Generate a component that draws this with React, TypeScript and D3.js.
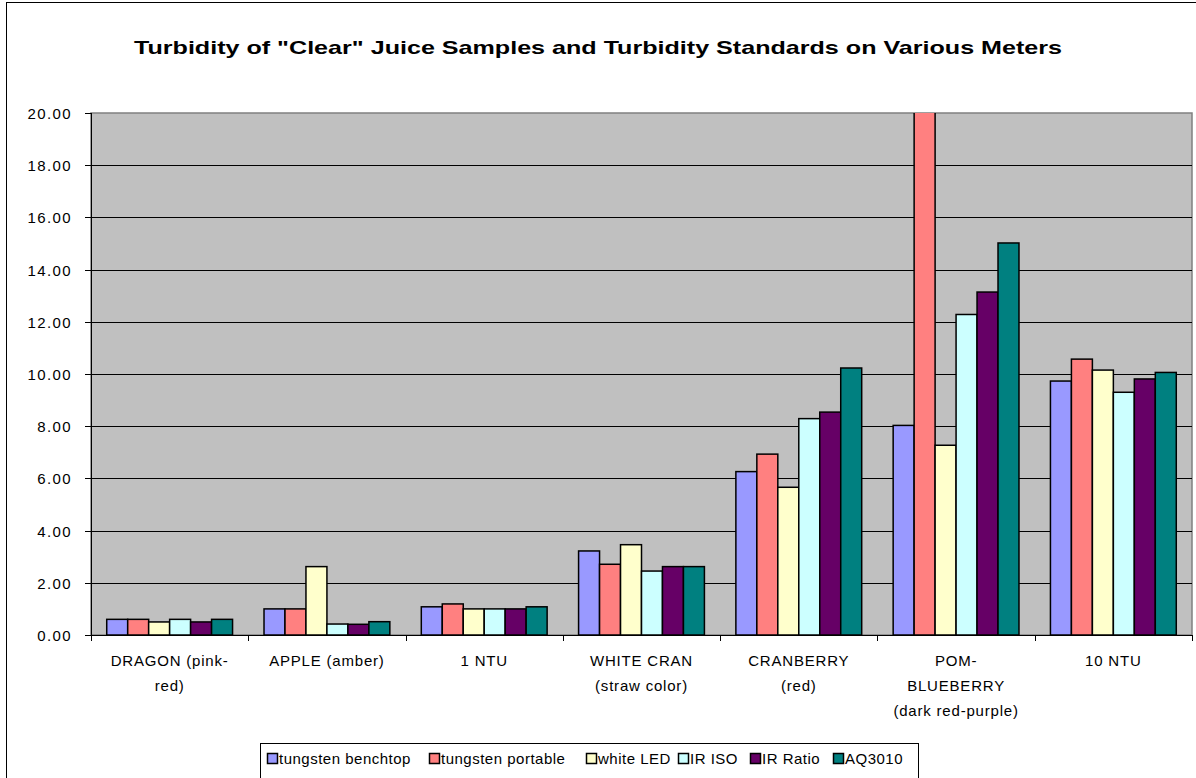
import { useEffect, useRef } from 'react';
import * as d3 from 'd3';

const categories = [
  ['DRAGON (pink-', 'red)'],
  ['APPLE (amber)'],
  ['1 NTU'],
  ['WHITE CRAN', '(straw color)'],
  ['CRANBERRY', '(red)'],
  ['POM-', 'BLUEBERRY', '(dark red-purple)'],
  ['10 NTU'],
];

const seriesNames = ['tungsten benchtop', 'tungsten portable', 'white LED', 'IR ISO', 'IR Ratio', 'AQ3010'];
const seriesColors = ['#9999FF', '#FF8080', '#FFFFCC', '#CCFFFF', '#660066', '#008080'];

const tungstenBenchtop = [0.6, 1.0, 1.08, 3.22, 6.26, 8.03, 9.73];
const tungstenPortable = [0.6, 1.0, 1.19, 2.71, 6.93, 24.0, 10.57];
const whiteLED = [0.5, 2.62, 1.0, 3.46, 5.66, 7.27, 10.15];
const irISO = [0.6, 0.42, 1.0, 2.45, 8.29, 12.28, 9.3];
const irRatio = [0.5, 0.41, 1.0, 2.62, 8.54, 13.14, 9.81];
const aq3010 = [0.6, 0.51, 1.08, 2.62, 10.23, 15.02, 10.06];

const yTicks = [0, 2, 4, 6, 8, 10, 12, 14, 16, 18, 20];

const title = 'Turbidity of "Clear" Juice Samples and Turbidity Standards on Various Meters';

const FONT = '"Liberation Sans", Arial, sans-serif';

const App = () => {
  const ref = useRef<SVGSVGElement | null>(null);

  useEffect(() => {
    if (!ref.current) return;
    const svg = d3.select(ref.current);
    svg.selectAll('*').remove();

    const W = 1196;
    const H = 778;
    const plot = { left: 91, top: 113, right: 1192, bottom: 635 };
    const allSeries = [tungstenBenchtop, tungstenPortable, whiteLED, irISO, irRatio, aq3010];

    // chart frame
    svg.append('rect').attr('x', 0).attr('y', 0).attr('width', W).attr('height', H).attr('fill', '#fff');
    svg.append('rect')
      .attr('x', 6.5).attr('y', 2.5).attr('width', W + 10).attr('height', H + 10)
      .attr('fill', 'none').attr('stroke', '#000').attr('stroke-width', 1);

    svg.append('text')
      .attr('x', 598).attr('y', 54)
      .attr('text-anchor', 'middle')
      .attr('font-family', FONT)
      .attr('font-size', 19)
      .attr('font-weight', 'bold')
      .attr('textLength', 928)
      .attr('lengthAdjust', 'spacingAndGlyphs')
      .text(title);

    const x0 = d3.scaleBand<number>()
      .domain(d3.range(categories.length))
      .range([plot.left, plot.right])
      .paddingInner(0)
      .paddingOuter(0);

    const barW = x0.bandwidth() / 7.5;
    const x1 = d3.scaleBand<number>()
      .domain(d3.range(seriesNames.length))
      .range([barW * 0.75, barW * 6.75]);

    const y = d3.scaleLinear().domain([0, 20]).range([plot.bottom, plot.top]);

    // plot area
    svg.append('rect')
      .attr('x', plot.left).attr('y', plot.top)
      .attr('width', plot.right - plot.left).attr('height', plot.bottom - plot.top)
      .attr('fill', '#C0C0C0').attr('stroke', '#808080').attr('stroke-width', 1.5);

    // gridlines
    svg.append('g').selectAll('line')
      .data(yTicks.filter(t => t > 0 && t < 20))
      .enter().append('line')
      .attr('x1', plot.left).attr('x2', plot.right)
      .attr('y1', d => Math.round(y(d)) + 0.5).attr('y2', d => Math.round(y(d)) + 0.5)
      .attr('stroke', '#000').attr('stroke-width', 1);

    const clipId = 'plotclip';
    svg.append('clipPath').attr('id', clipId)
      .append('rect')
      .attr('x', plot.left).attr('y', plot.top)
      .attr('width', plot.right - plot.left).attr('height', plot.bottom - plot.top + 2);

    const bars = svg.append('g').attr('clip-path', `url(#${clipId})`);
    allSeries.forEach((vals, s) => {
      bars.append('g').selectAll('rect')
        .data(vals)
        .enter().append('rect')
        .attr('x', (_, i) => (x0(i) as number) + (x1(s) as number))
        .attr('y', d => y(d))
        .attr('width', x1.bandwidth())
        .attr('height', d => y(0) - y(d))
        .attr('fill', seriesColors[s])
        .attr('stroke', '#000')
        .attr('stroke-width', 1.5);
    });

    // axes
    svg.append('line')
      .attr('x1', plot.left + 0.5).attr('x2', plot.left + 0.5)
      .attr('y1', plot.top).attr('y2', plot.bottom)
      .attr('stroke', '#000');
    svg.append('line')
      .attr('x1', plot.left).attr('x2', plot.right)
      .attr('y1', plot.bottom + 0.5).attr('y2', plot.bottom + 0.5)
      .attr('stroke', '#000');

    const yAxis = svg.append('g');
    yTicks.forEach(t => {
      const yy = Math.round(y(t)) + 0.5;
      yAxis.append('line')
        .attr('x1', plot.left - 6).attr('x2', plot.left)
        .attr('y1', yy).attr('y2', yy)
        .attr('stroke', '#000');
      yAxis.append('text')
        .attr('x', 72).attr('y', yy + 5.5)
        .attr('text-anchor', 'end')
        .attr('font-family', FONT)
        .attr('font-size', 15)
        .attr('letter-spacing', 1.4)
        .text(t.toFixed(2));
    });

    const xAxis = svg.append('g');
    d3.range(categories.length + 1).forEach(i => {
      const xx = Math.round(plot.left + i * x0.step()) + 0.5;
      xAxis.append('line')
        .attr('x1', xx).attr('x2', xx)
        .attr('y1', plot.bottom).attr('y2', plot.bottom + 6)
        .attr('stroke', '#000');
    });
    categories.forEach((lines, i) => {
      const cx = (x0(i) as number) + x0.bandwidth() / 2;
      const t = xAxis.append('text')
        .attr('text-anchor', 'middle')
        .attr('font-family', FONT)
        .attr('font-size', 15)
        .attr('letter-spacing', 0.8);
      lines.forEach((ln, k) => {
        t.append('tspan').attr('x', cx).attr('y', 666 + k * 25).text(ln);
      });
    });

    // legend
    const lg = { x: 260, y: 743, w: 658, h: 40 };
    const legend = svg.append('g');
    legend.append('rect')
      .attr('x', lg.x + 0.5).attr('y', lg.y + 0.5).attr('width', lg.w).attr('height', lg.h)
      .attr('fill', '#fff').attr('stroke', '#000');
    const swatchX = [267, 429, 586, 678, 750, 833];
    seriesNames.forEach((name, s) => {
      legend.append('rect')
        .attr('x', swatchX[s] + 0.5).attr('y', 753.5)
        .attr('width', 10).attr('height', 10)
        .attr('fill', seriesColors[s]).attr('stroke', '#000').attr('stroke-width', 1.5);
      legend.append('text')
        .attr('x', swatchX[s] + 12).attr('y', 764)
        .attr('font-family', FONT)
        .attr('font-size', 15)
        .attr('letter-spacing', 0.5)
        .text(name);
    });
  }, []);

  return (
    <svg ref={ref} width={1196} height={778} style={{ position: 'absolute', left: 0, top: 0 }} />
  );
};

export default App;
